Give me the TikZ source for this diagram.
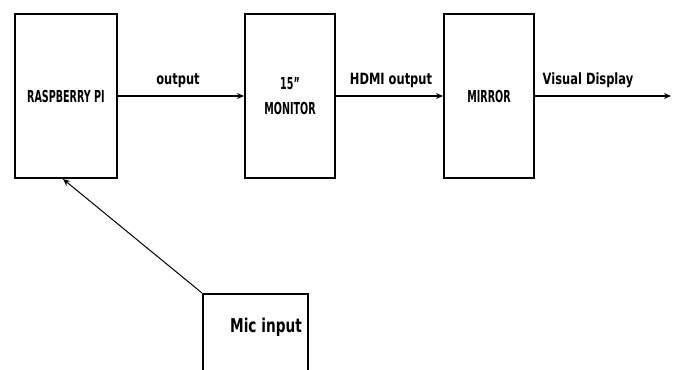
\documentclass[tikz,border=0pt]{standalone}
\usepackage{fontspec}
\setmainfont{DejaVu Sans}
\newfontfamily\boxfont[FakeStretch=0.58,BoldFeatures={FakeStretch=0.58}]{DejaVu Sans}
\newfontfamily\labfont[FakeStretch=0.74,BoldFeatures={FakeStretch=0.74}]{DejaVu Sans}
\newfontfamily\micfont[FakeStretch=0.72,BoldFeatures={FakeStretch=0.72}]{DejaVu Sans}
\usetikzlibrary{arrows.meta}
\tikzset{
  block/.style={draw, line width=2pt, minimum height=164pt, inner sep=0pt,
    font=\boxfont\bfseries\fontsize{16.5}{25}\selectfont, align=center},
  flow/.style={-{Stealth[length=7pt,width=6pt]}, line width=1.2pt},
  lab/.style={font=\labfont\bfseries\fontsize{15.5}{17}\selectfont, inner sep=0pt},
  mictxt/.style={font=\micfont\bfseries\fontsize{19}{21}\selectfont, inner sep=0pt}
}
\begin{document}
\begin{tikzpicture}[x=1pt,y=-1pt]
\useasboundingbox (0,0) rectangle (676,369);
\clip (0,0) rectangle (676,369);
\node[block, minimum width=102pt] (pi) at (66,96) {RASPBERRY PI};
\node[block, minimum width=90pt] (mon) at (290,96) {15”\\MONITOR};
\node[block, minimum width=90pt] (mir) at (489,96) {MIRROR};
\node[draw, line width=2pt, minimum width=105pt, minimum height=100pt, inner sep=0pt] (mic) at (255.5,344) {};
\node[mictxt] (mictext) at (266,327) {Mic input};
\coordinate (vdend) at (671,96);
\draw[flow] (pi.east) -- (mon.west);
\draw[flow] (mon.east) -- (mir.west);
\draw[flow] (mir.east) -- (vdend);
\draw[flow, line width=1pt] (mic.north west) -- ([xshift=-3pt]pi.south);
\node[lab] (l1) at (178,81) {output};
\node[lab] (l2) at (391,80) {HDMI output};
\node[lab] (l3) at (588,80) {Visual Display};
\end{tikzpicture}
\end{document}
